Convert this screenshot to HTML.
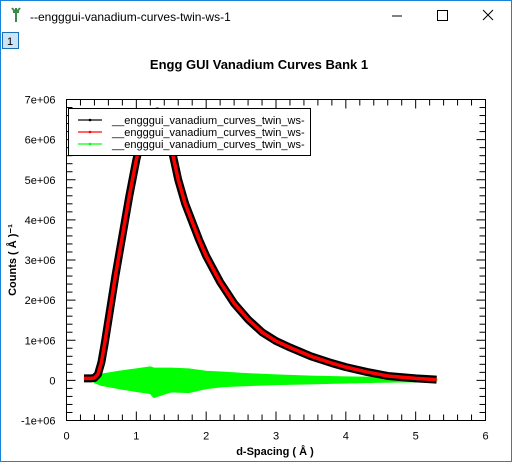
<!DOCTYPE html>
<html><head><meta charset="utf-8">
<style>
body{margin:0;width:512px;height:462px;overflow:hidden;background:#fff;font-family:"Liberation Sans",sans-serif;}
#win{position:absolute;left:0;top:0;width:510px;height:460px;border:1px solid #1883d7;background:#fff;}
</style></head><body>
<div id="win">
<svg width="512" height="462" style="position:absolute;left:-1px;top:-1px">
  <g>
    <path d="M16 8 L16 22 M12 8 Q16 14 20 8 M13 12 L19 12" stroke="#3a8a4a" stroke-width="2" fill="none"/>
    <text x="30" y="21" font-size="12" fill="#000">--engggui-vanadium-curves-twin-ws-1</text>
    <line x1="392" y1="16" x2="402" y2="16" stroke="#000"/>
    <rect x="437.5" y="10.5" width="10" height="10" fill="none" stroke="#000"/>
    <path d="M483 10 L493 20 M493 10 L483 20" stroke="#000"/>
  </g>
  <g>
    <rect x="2.5" y="32.5" width="16" height="16" fill="#cce4f7" stroke="#1a6fb5"/>
    <text x="7" y="45" font-size="11">1</text>
  </g>
  <text x="259" y="69" font-size="13" font-weight="bold" text-anchor="middle">Engg GUI Vanadium Curves Bank 1</text>
  <g id="plot"></g>
  <text x="275" y="455" font-size="11" font-weight="bold" text-anchor="middle">d-Spacing ( Å )</text>
  <text transform="translate(16,260) rotate(-90)" font-size="11" font-weight="bold" text-anchor="middle">Counts ( Å )⁻¹</text>
</svg>
</div>
<script>
const xTicks=[0,1,2,3,4,5,6];
const yTicks=[-1e6,0,1e6,2e6,3e6,4e6,5e6,6e6,7e6];
const yTickLabels=["-1e+06","0","1e+06","2e+06","3e+06","4e+06","5e+06","6e+06","7e+06"];
const dSpacing=[0.25,0.35,0.4,0.45,0.5,0.55,0.6,0.65,0.7,0.8,0.9,1.0,1.1,1.2,1.3,1.4,1.5,1.6,1.7,1.8,1.9,2.0,2.2,2.4,2.6,2.8,3.0,3.2,3.5,3.8,4.0,4.3,4.6,5.0,5.3];
const fitValues=[0.05e6,0.05e6,0.06e6,0.15e6,0.45e6,0.95e6,1.5e6,2.05e6,2.6e6,3.6e6,4.6e6,5.5e6,6.2e6,6.6e6,6.7e6,6.4e6,5.8e6,5.0e6,4.4e6,3.95e6,3.5e6,3.1e6,2.45e6,1.92e6,1.52e6,1.2e6,0.98e6,0.82e6,0.6e6,0.43e6,0.33e6,0.21e6,0.11e6,0.05e6,0.02e6];
const diffD=[0.4,0.5,0.75,1.0,1.2,1.25,1.5,1.75,2.0,2.25,2.5,3.0,3.5,4.0,4.5,5.0,5.3];
const diffHi=[0.05e6,0.15e6,0.22e6,0.28e6,0.33e6,0.3e6,0.3e6,0.28e6,0.22e6,0.2e6,0.17e6,0.13e6,0.1e6,0.08e6,0.07e6,0.05e6,0.03e6];
const diffLo=[-0.05e6,-0.12e6,-0.2e6,-0.27e6,-0.32e6,-0.42e6,-0.28e6,-0.3e6,-0.2e6,-0.15e6,-0.13e6,-0.1e6,-0.08e6,-0.06e6,-0.04e6,-0.03e6,-0.01e6];
const legendLabels=["__engggui_vanadium_curves_twin_ws-","__engggui_vanadium_curves_twin_ws-","__engggui_vanadium_curves_twin_ws-"];
const legendColors=["#000","#f00","#0f0"];

const NS="http://www.w3.org/2000/svg";
const L=66.5,R=485.5,T=99.5,B=420.5;
const sx=v=>L+(v-0)/(6-0)*(R-L);
const sy=v=>B-(v-(-1e6))/(8e6)*(B-T);
const g=document.getElementById('plot');
function mk(t,a,p){const e=document.createElementNS(NS,t);for(const k in a)e.setAttribute(k,a[k]);(p||g).appendChild(e);return e;}

const clip=mk('clipPath',{id:'pc'});mk('rect',{x:L,y:T,width:R-L,height:B-T},clip);
const series=mk('g',{'clip-path':'url(#pc)'});



let pts=diffD.map((d,i)=>sx(d)+','+sy(diffHi[i]));
pts=pts.concat(diffD.map((d,i)=>sx(d)+','+sy(diffLo[i])).reverse());
const gb=mk('polygon',{points:pts.join(' '),fill:'#00ff00',stroke:'#00ff00','stroke-width':1.5,'stroke-linejoin':'round'},series);



const line=dSpacing.map((d,i)=>sx(d)+','+sy(fitValues[i])).join(' ');
const blk=mk('polyline',{points:line,fill:'none',stroke:'#000','stroke-width':8,'stroke-linejoin':'round'},series);


const red=mk('polyline',{points:line,fill:'none',stroke:'#f00','stroke-width':3.5,'stroke-linejoin':'round'},series);



const fr=mk('rect',{x:L,y:T,width:R-L,height:B-T,fill:'none',stroke:'#000','stroke-width':1});



for(let i=0;i<=30;i++){const v=i*0.2,x=sx(v),len=(i%5==0)?9:6;
  mk('line',{x1:x,y1:B,x2:x,y2:B-len,stroke:'#000'});
  mk('line',{x1:x,y1:T,x2:x,y2:T+len,stroke:'#000'});}
xTicks.forEach(v=>{const t=mk('text',{x:sx(v),y:B+19,'font-size':11,'text-anchor':'middle'});t.textContent=v;
  
  });
for(let i=0;i<=40;i++){const v=-1e6+i*0.2e6,y=sy(v),len=(i%5==0)?9:6;
  mk('line',{x1:L,y1:y,x2:L+len,y2:y,stroke:'#000'});
  mk('line',{x1:R,y1:y,x2:R-len,y2:y,stroke:'#000'});}
yTicks.forEach((v,i)=>{const t=mk('text',{x:L-11,y:sy(v)+4,'font-size':11,'text-anchor':'end'});t.textContent=yTickLabels[i];
  
  });

const lg=mk('g',{});


mk('rect',{x:68.5,y:108.5,width:242,height:47,fill:'#fff',stroke:'#000'},lg);
legendLabels.forEach((s,i)=>{const y=120+i*12;
  const e=mk('g',{},lg);
  
  
  mk('line',{x1:78,y1:y,x2:102,y2:y,stroke:legendColors[i],'stroke-width':2,opacity:0.6},e);
  mk('circle',{cx:90,cy:y,r:1.3,fill:legendColors[i]},e);
  const t=mk('text',{x:112,y:y+4,'font-size':11},e);t.textContent=s;});
</script>
</body></html>
